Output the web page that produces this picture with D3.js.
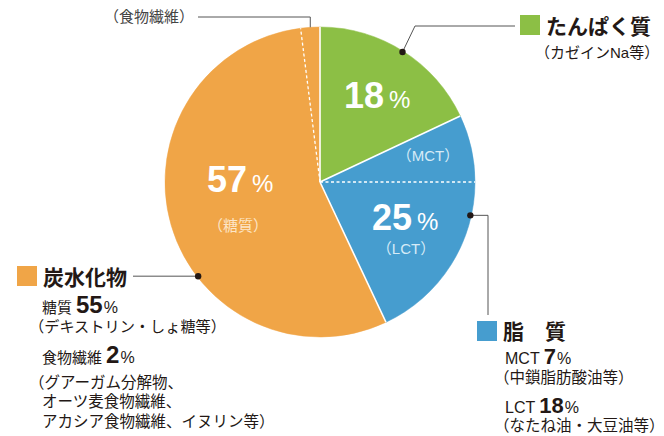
<!DOCTYPE html>
<html>
<head>
<meta charset="utf-8">
<script src="https://cdn.jsdelivr.net/npm/d3@7"></script>
<style>
  body { margin: 0; background: #fff; }
  svg text { font-family: "Liberation Sans", "Noto Sans CJK JP", sans-serif; fill: #231815; }
</style>
</head>
<body>
<div id="chart"></div>
<script>
// data
var groups = ["たんぱく質", "脂質", "炭水化物"];
var groupValues = [18, 25, 57];
var parts = ["カゼインNa", "MCT", "LCT", "糖質", "食物繊維"];
var partGroup = [0, 1, 1, 2, 2];
var partValues = [18, 7, 18, 55, 2];

var colors = ["#8cbf45", "#469dcf", "#f0a547"];

var w = 664, h = 436;
var cx = 320, cy = 182, r = 155;

var svg = d3.select("#chart").append("svg")
    .attr("width", w)
    .attr("height", h);

var pie = d3.pie().sort(null).value(function(d) { return d; });
var arcs = pie(partValues);
var arc = d3.arc().innerRadius(0).outerRadius(r);

var g = svg.append("g").attr("transform", "translate(" + cx + "," + cy + ")");

g.selectAll("path.slice")
    .data(arcs)
    .enter()
    .append("path")
    .attr("class", "slice")
    .attr("d", arc)
    .attr("fill", function(d, i) { return colors[partGroup[i]]; })
    .attr("stroke", function(d, i) { return colors[partGroup[i]]; })
    .attr("stroke-width", 0.5);

// boundaries: solid between groups, dashed inside a group
function px(a, rr) { return Math.sin(a) * rr; }
function py(a, rr) { return -Math.cos(a) * rr; }

arcs.forEach(function(d, i) {
    var prev = (i - 1 + arcs.length) % arcs.length;
    var solid = partGroup[i] !== partGroup[prev];
    g.append("line")
        .attr("x1", 0).attr("y1", 0)
        .attr("x2", px(d.startAngle, r)).attr("y2", py(d.startAngle, r))
        .attr("stroke", "#fff")
        .attr("stroke-width", solid ? 1.6 : 1.3)
        .attr("stroke-dasharray", solid ? null : "3,2.5");
});

// inner labels
function bigLabel(x, y, num) {
    var t = svg.append("text").attr("x", x).attr("y", y);
    t.append("tspan").text(num)
        .style("font-weight", "bold").style("font-size", "36px").style("fill", "#fff");
    t.append("tspan").text("%").attr("dx", 5)
        .style("font-size", "24px").style("fill", "#fff");
}
bigLabel(344, 108, groupValues[0]);
bigLabel(372, 230, groupValues[1]);
bigLabel(207, 192, groupValues[2]);

function subLabel(x, y, txt, col) {
    svg.append("text").attr("x", x).attr("y", y)
        .attr("text-anchor", "middle")
        .style("font-size", "15px")
        .style("fill", col)
        .text(txt);
}
subLabel(428, 161, "（" + parts[1] + "）", "#d6ebf7");
subLabel(406, 254, "（" + parts[2] + "）", "#d6ebf7");
subLabel(238, 231, "（" + parts[3] + "）", "#fde6c8");

// leader lines
var lead = "#555";
function dotAt(angleDeg) {
    var a = angleDeg * Math.PI / 180;
    return [cx + px(a, r - 1), cy + py(a, r - 1)];
}

// protein
var dp = dotAt(360 * (partValues[0] / 2) / 100);
svg.append("polyline")
    .attr("points", [dp, [415, 26], [515, 26]].map(function(p) { return p.join(","); }).join(" "))
    .attr("fill", "none").attr("stroke", lead).attr("stroke-width", 1);
svg.append("circle").attr("cx", dp[0]).attr("cy", dp[1]).attr("r", 3.2).attr("fill", "#231815");

// fat
var df = dotAt(102.5);
svg.append("polyline")
    .attr("points", [df, [488, df[1]], [488, 315]].map(function(p) { return p.join(","); }).join(" "))
    .attr("fill", "none").attr("stroke", lead).attr("stroke-width", 1);
svg.append("circle").attr("cx", df[0]).attr("cy", df[1]).attr("r", 3.2).attr("fill", "#231815");

// carbohydrate
var dc = dotAt(232.3);
svg.append("line")
    .attr("x1", 133).attr("y1", dc[1]).attr("x2", dc[0]).attr("y2", dc[1])
    .attr("stroke", lead).attr("stroke-width", 1);
svg.append("circle").attr("cx", dc[0]).attr("cy", dc[1]).attr("r", 3.2).attr("fill", "#231815");

// fibre (no dot)
var fib = arcs[4];
var fa = (fib.startAngle + fib.endAngle) / 2;
var fx = cx + px(fa, r), fy = cy + py(fa, r);
svg.append("polyline")
    .attr("points", [[198, 17], [fx, 17], [fx, fy]].map(function(p) { return p.join(","); }).join(" "))
    .attr("fill", "none").attr("stroke", lead).attr("stroke-width", 1);
svg.append("text").attr("x", 104).attr("y", 22)
    .style("font-size", "15px").style("fill", "#444")
    .text("（" + parts[4] + "）");

// legends
function square(x, y, col) {
    svg.append("rect").attr("x", x).attr("y", y).attr("width", 20).attr("height", 20).attr("fill", col);
}
function heading(x, y, txt) {
    svg.append("text").attr("x", x).attr("y", y)
        .style("font-size", "21px").style("font-weight", "bold")
        .text(txt);
}
function line(x, y, txt, size) {
    svg.append("text").attr("x", x).attr("y", y)
        .style("font-size", (size || 14) + "px")
        .text(txt);
}
function pctLine(x, y, label, num, numSize, labelSize) {
    var t = svg.append("text").attr("x", x).attr("y", y);
    t.append("tspan").text(label).style("font-size", (labelSize || 15) + "px");
    t.append("tspan").text(num).attr("dx", 4).style("font-size", numSize + "px").style("font-weight", "bold");
    t.append("tspan").text("%").attr("dx", 1).style("font-size", "16px");
}

// protein legend
square(520, 15, colors[0]);
heading(546, 34, groups[0]);
line(535, 58, "（" + parts[0] + "等）", 15);

// fat legend
square(477, 321, colors[1]);
heading(503, 339, "脂　質");
pctLine(505, 364, parts[1], partValues[1], 22, 16);
line(494, 383, "（中鎖脂肪酸油等）", 15.5);
pctLine(505, 413, parts[2], partValues[2], 22, 16);
line(494, 431, "（なたね油・大豆油等）", 15.5);

// carbohydrate legend
square(17, 266, colors[2]);
heading(43, 285, groups[2]);
pctLine(42, 313, parts[3], partValues[3], 24);
line(29, 332, "（デキストリン・しょ糖等）", 15.2);
pctLine(42, 363, parts[4], partValues[4], 24);
line(29, 388, "（グアーガム分解物、", 15.5);
line(42, 407, "オーツ麦食物繊維、", 15.5);
line(42, 427, "アカシア食物繊維、イヌリン等）", 15.5);
</script>
</body>
</html>
